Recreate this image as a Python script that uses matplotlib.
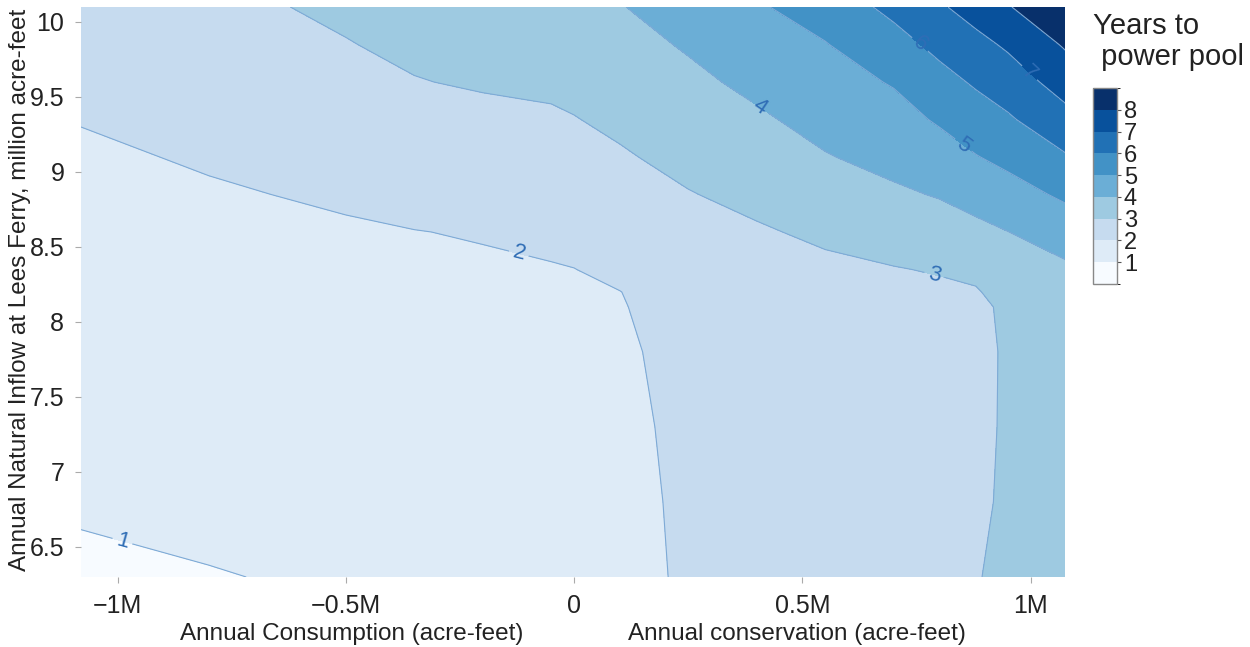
import numpy as np
import matplotlib
matplotlib.use("Agg")
import matplotlib.pyplot as plt
from matplotlib.colors import ListedColormap, BoundaryNorm
from matplotlib.cm import ScalarMappable

plt.rcParams['font.family'] = ['Liberation Sans', 'DejaVu Sans']

# Change in annual use, million acre-feet (negative = added consumption, positive = conservation)
use_change = [-1.08, -0.8, -0.5, -0.35, -0.2, -0.05, 0.0, 0.1, 0.25, 0.4, 0.55, 0.7, 0.8, 0.88, 0.95, 1.08]
# Annual natural inflow at Lees Ferry, million acre-feet
inflow = [6.3, 6.8, 7.3, 7.8, 8.1, 8.2, 8.35, 8.6, 8.85, 9.1, 9.35, 9.6, 9.85, 10.1]

# Years until Lake Powell drops to minimum power pool (rows follow inflow, columns follow use_change)
years_6_30 = [0.88, 0.97, 1.08, 1.12, 1.17, 1.26, 1.30, 1.52, 2.20, 2.35, 2.45, 2.55, 2.62, 2.93, 3.30, 3.50]
years_6_80 = [1.07, 1.16, 1.27, 1.31, 1.36, 1.43, 1.47, 1.66, 2.20, 2.35, 2.45, 2.55, 2.62, 2.76, 3.20, 3.45]
years_7_30 = [1.25, 1.36, 1.46, 1.50, 1.55, 1.61, 1.64, 1.79, 2.20, 2.35, 2.45, 2.55, 2.62, 2.71, 3.15, 3.45]
years_7_80 = [1.44, 1.55, 1.65, 1.69, 1.73, 1.79, 1.81, 1.89, 2.22, 2.37, 2.47, 2.57, 2.64, 2.67, 3.15, 3.50]
years_8_10 = [1.55, 1.66, 1.76, 1.80, 1.84, 1.89, 1.91, 1.96, 2.28, 2.45, 2.56, 2.66, 2.72, 2.76, 3.20, 3.65]
years_8_20 = [1.59, 1.70, 1.80, 1.84, 1.88, 1.92, 1.95, 1.99, 2.33, 2.50, 2.65, 2.77, 2.85, 2.93, 3.33, 3.73]
years_8_35 = [1.64, 1.76, 1.85, 1.89, 1.94, 1.95, 1.99, 2.16, 2.45, 2.62, 2.83, 2.96, 3.06, 3.20, 3.59, 3.85]
years_8_60 = [1.74, 1.85, 1.95, 1.99, 2.03, 2.19, 2.23, 2.41, 2.68, 2.91, 3.15, 3.40, 3.56, 3.76, 3.99, 4.48]
years_8_85 = [1.83, 1.95, 2.06, 2.15, 2.22, 2.43, 2.48, 2.66, 2.96, 3.22, 3.55, 3.86, 4.06, 4.35, 4.62, 5.18]
years_9_10 = [1.92, 2.05, 2.31, 2.40, 2.47, 2.67, 2.72, 2.91, 3.24, 3.55, 3.95, 4.27, 4.58, 4.96, 5.25, 5.94]
years_9_35 = [2.02, 2.20, 2.53, 2.68, 2.75, 2.90, 2.97, 3.17, 3.52, 3.87, 4.29, 4.66, 5.11, 5.54, 5.88, 6.72]
years_9_60 = [2.12, 2.38, 2.74, 2.96, 3.10, 3.14, 3.22, 3.43, 3.80, 4.21, 4.63, 5.07, 5.67, 6.12, 6.50, 7.44]
years_9_85 = [2.22, 2.58, 2.96, 3.19, 3.30, 3.36, 3.48, 3.69, 4.09, 4.56, 4.96, 5.64, 6.26, 6.72, 7.14, 8.14]
years_10_10 = [2.32, 2.75, 3.17, 3.40, 3.50, 3.60, 3.74, 3.96, 4.39, 4.90, 5.42, 6.25, 6.88, 7.40, 7.94, 8.83]

contour_levels = [1, 2, 3, 4, 5, 6, 7, 8]
label_levels = [1, 2, 3, 4, 5, 6, 7]
x_ticks = [-1.0, -0.5, 0.0, 0.5, 1.0]
x_tick_labels = ['\u22121M', '\u22120.5M', '0', '0.5M', '1M']
y_ticks = [6.5, 7.0, 7.5, 8.0, 8.5, 9.0, 9.5, 10.0]
y_tick_labels = ['6.5', '7', '7.5', '8', '8.5', '9', '9.5', '10']

band_colors = ['#f7fbff', '#deebf7', '#c6dbef', '#9ecae1', '#6baed6',
               '#4292c6', '#2171b5', '#08519c', '#08306b']

Z = np.array([years_6_30, years_6_80, years_7_30, years_7_80, years_8_10, years_8_20,
              years_8_35, years_8_60, years_8_85, years_9_10, years_9_35, years_9_60,
              years_9_85, years_10_10])
X, Y = np.meshgrid(use_change, inflow)

fig = plt.figure(figsize=(12.5, 6.47), dpi=100)
ax = fig.add_axes([81 / 1250, 70 / 647, (1065 - 81) / 1250, (577 - 7) / 647])

fill_levels = [-10] + contour_levels + [20]
ax.contourf(X, Y, Z, levels=fill_levels, colors=band_colors)
cs = ax.contour(X, Y, Z, levels=contour_levels, colors='#7eaad6', linewidths=0.8)

label_spots = [(-0.99, 6.53), (-0.12, 8.47), (0.79, 8.33), (0.407, 9.43),
               (0.85, 9.17), (0.757, 9.85), (1.0, 9.67)]
ax.clabel(cs, levels=label_levels, manual=label_spots, fmt='%d', fontsize=16,
          colors='#2f6db5', inline=True, inline_spacing=4)

ax.set_xlim(-1.08, 1.075)
ax.set_ylim(6.3, 10.1)
for s in ax.spines.values():
    s.set_visible(False)
ax.set_xticks(x_ticks)
ax.set_xticklabels(x_tick_labels)
ax.set_yticks(y_ticks)
ax.set_yticklabels(y_tick_labels)
ax.tick_params(axis='both', length=4, width=0.8, color='#aaaaaa', labelsize=18,
               labelcolor='#222222', pad=8)

fig.text(352 / 1250, 1 - 634 / 647, 'Annual Consumption (acre-feet)', ha='center',
         va='center', fontsize=17.5, color='#222222')
fig.text(797 / 1250, 1 - 634 / 647, 'Annual conservation (acre-feet)', ha='center',
         va='center', fontsize=17.5, color='#222222')
fig.text(20 / 1250, 1 - 290 / 647, 'Annual Natural Inflow at Lees Ferry, million acre-feet',
         rotation=90, ha='center', va='center', fontsize=17.5, color='#222222')

# colour bar with half-height end bands
cax = fig.add_axes([1093 / 1250, 1 - 284 / 647, 24 / 1250, 196 / 647])
bounds = [0.5] + contour_levels + [8.5]
sm = ScalarMappable(norm=BoundaryNorm(bounds, len(band_colors)),
                    cmap=ListedColormap(band_colors))
cb = fig.colorbar(sm, cax=cax, ticks=contour_levels, boundaries=bounds)
cb.outline.set_edgecolor('#888888')
cb.outline.set_linewidth(1.0)
cb.ax.tick_params(length=3, width=0.8, color='#555555', labelsize=17,
                  labelcolor='#222222', pad=2)
fig.text(1093 / 1250, 1 - 12 / 647, 'Years to\n power pool', ha='left', va='top',
         fontsize=21, color='#222222', linespacing=1.15)

fig.savefig('out.png', dpi=100)
